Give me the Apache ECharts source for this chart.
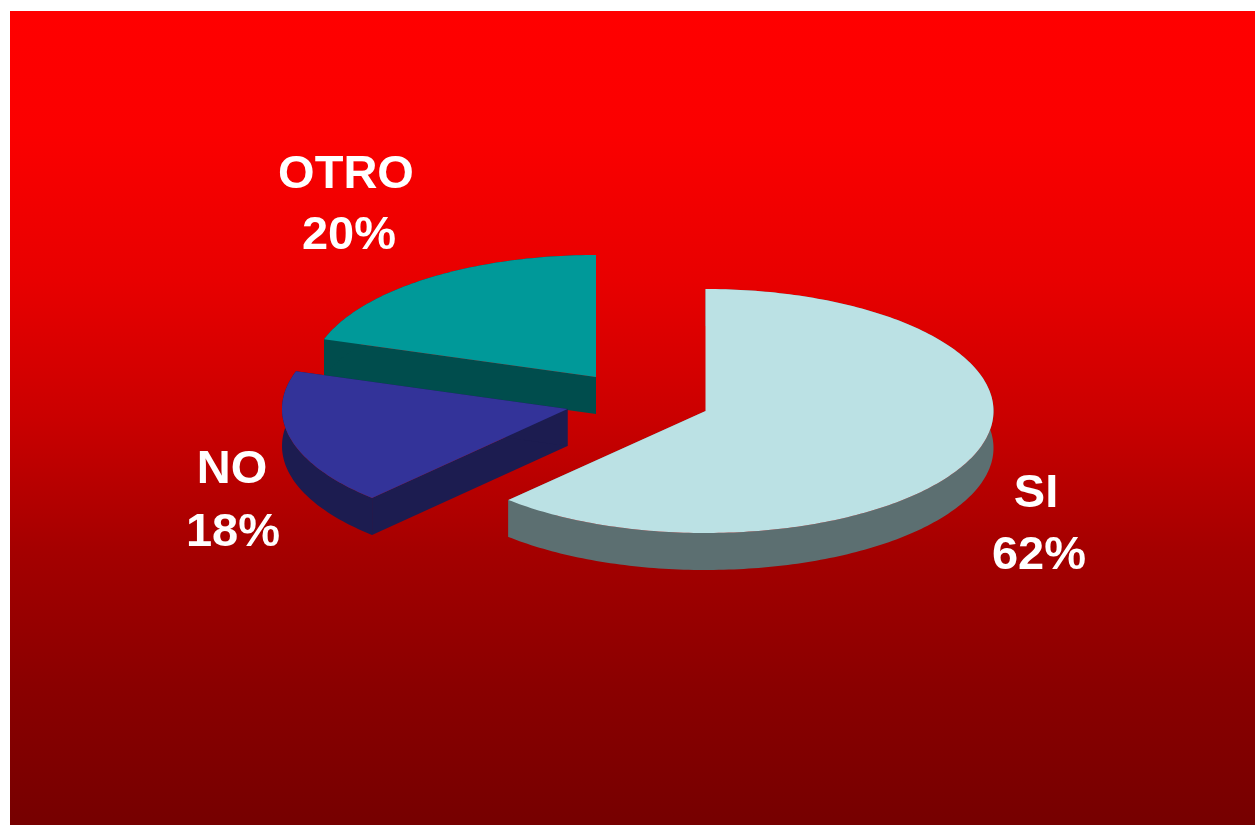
<!DOCTYPE html>
<html>
<head>
<meta charset="utf-8">
<title>SI / NO / OTRO</title>
<script src="https://cdn.jsdelivr.net/npm/echarts@6/dist/echarts.min.js"></script>
<style>
  html, body { margin: 0; padding: 0; background: #fff; }
  #main { width: 1255px; height: 825px; }
</style>
</head>
<body>
<div id="main"></div>
<script>
// chart data
var categories = ["SI", "NO", "OTRO"];
var values = [62, 18, 20];

// colours per slice, top face then side wall
var topColors = ["#BBE1E4", "#333399", "#009999"];
var sideColors = ["#5C6F71", "#1C1C50", "#004D4D"];

// exploded pie layout, same order as categories
var centers = [[705.5, 411], [567.5, 409], [596, 377]];
var namePos = [[1036, 494], [232, 470], [346, 175]];
var percentPos = [[1039, 556], [233, 533], [349, 236]];
var radiusX = [288, 285.5, 286];
var radiusY = 122;
var depth = 37;
var drawOrder = [0, 2, 1];

var total = values.reduce(function (a, b) { return a + b; }, 0);

function point(i, deg, dy) {
  var r = (deg * Math.PI) / 180;
  return [
    centers[i][0] + radiusX[i] * Math.sin(r),
    centers[i][1] - radiusY * Math.cos(r) + dy,
  ];
}

function arc(i, from, to, dy) {
  var pts = [];
  var steps = Math.ceil(Math.abs(to - from));
  for (var s = 0; s <= steps; s++) {
    pts.push(point(i, from + ((to - from) * s) / steps, dy));
  }
  return pts;
}

function label(text, pos) {
  return {
    type: "text",
    x: pos[0],
    y: pos[1],
    style: {
      text: text,
      fill: "#fff",
      font: 'bold 47px "Liberation Sans", Arial, sans-serif',
      align: "center",
      verticalAlign: "middle",
    },
  };
}

function renderSlice(params, api) {
  var i = api.value(0);
  var before = 0;
  for (var k = 0; k < i; k++) before += values[k];
  var a0 = (before / total) * 360;
  var a1 = ((before + values[i]) / total) * 360;
  var c = centers[i];
  var lower = [c[0], c[1] + depth];

  function wall(deg) {
    return {
      type: "polygon",
      shape: { points: [c, point(i, deg, 0), point(i, deg, depth), lower] },
      style: { fill: sideColors[i] },
    };
  }

  return {
    type: "group",
    children: [
      wall(a0),
      wall(a1),
      {
        type: "polygon",
        shape: { points: arc(i, a0, a1, 0).concat(arc(i, a1, a0, depth)) },
        style: { fill: sideColors[i] },
      },
      {
        type: "polygon",
        shape: { points: [c].concat(arc(i, a0, a1, 0)) },
        style: { fill: topColors[i] },
      },
      label(categories[i], namePos[i]),
      label(Math.round((values[i] / total) * 100) + "%", percentPos[i]),
    ],
  };
}

var chart = echarts.init(document.getElementById("main"));
chart.setOption({
  animation: false,
  backgroundColor: "#fff",
  graphic: [
    {
      type: "rect",
      silent: true,
      shape: { x: 10, y: 11, width: 1245, height: 814 },
      style: {
        fill: new echarts.graphic.LinearGradient(0, 0, 0, 1, [
          { offset: 0, color: "#ff0000" },
          { offset: 0.15, color: "#fb0000" },
          { offset: 0.33, color: "#e80000" },
          { offset: 0.5, color: "#ca0000" },
          { offset: 0.665, color: "#a40000" },
          { offset: 0.83, color: "#8a0000" },
          { offset: 1, color: "#760000" },
        ]),
      },
    },
  ],
  series: [
    {
      type: "custom",
      coordinateSystem: "none",
      silent: true,
      data: drawOrder.map(function (i) { return [i]; }),
      renderItem: renderSlice,
    },
  ],
});
</script>
</body>
</html>
